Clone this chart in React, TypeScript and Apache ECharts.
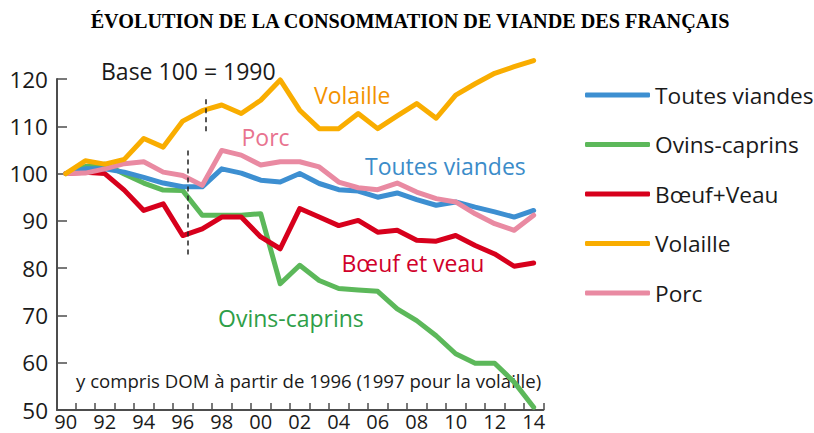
import React, { useEffect, useRef } from "react";
import * as echarts from "echarts";

const years = [1990, 1991, 1992, 1993, 1994, 1995, 1996, 1997, 1998, 1999, 2000, 2001, 2002, 2003, 2004, 2005, 2006, 2007, 2008, 2009, 2010, 2011, 2012, 2013, 2014];
const toutesViandes = [100, 101, 101, 100.3, 99.2, 98, 97.2, 97.2, 101, 100.1, 98.6, 98.2, 100, 97.9, 96.6, 96.3, 95, 95.9, 94.5, 93.3, 94, 92.9, 91.9, 90.8, 92.2];
const ovinsCaprins = [100, 101.5, 102, 99.9, 98, 96.5, 96.4, 91.2, 91.2, 91.2, 91.5, 76.7, 80.6, 77.4, 75.7, 75.4, 75.1, 71.4, 68.9, 65.7, 61.9, 59.9, 59.9, 55.9, 50.6];
const boeufVeau = [100, 100.3, 100, 96.5, 92.2, 93.6, 86.9, 88.3, 90.8, 90.8, 86.6, 84.1, 92.6, 90.8, 89, 90.1, 87.6, 88, 85.9, 85.7, 86.9, 84.8, 83, 80.4, 81.1];
const volaille = [100, 102.7, 102, 103, 107.4, 105.6, 111.1, 113.3, 114.5, 112.7, 115.5, 119.8, 113.4, 109.5, 109.5, 112.7, 109.5, 112.2, 114.8, 111.7, 116.6, 119, 121.2, 122.6, 123.9];
const porc = [100, 100.1, 101, 102.1, 102.5, 100.3, 99.6, 97.5, 104.9, 103.9, 101.8, 102.5, 102.5, 101.4, 98.2, 97, 96.6, 98, 96.1, 94.7, 94, 91.5, 89.4, 88, 91.2];

const yTicks = [50, 60, 70, 80, 90, 100, 110, 120];
const xLabelYears = [1990, 1992, 1994, 1996, 1998, 2000, 2002, 2004, 2006, 2008, 2010, 2012, 2014];
const xTickBounds = [1990.5, 1991.5, 1992.5, 1993.5, 1994.5, 1995.5, 1996.5, 1997.5, 1998.5, 1999.5, 2000.5, 2001.5, 2002.5, 2003.5, 2004.5, 2005.5, 2006.5, 2007.5, 2008.5, 2009.5, 2010.5, 2011.5, 2012.5, 2013.5, 2014.5];

const seriesDefs = [
  { name: "Ovins-caprins", values: ovinsCaprins, color: "#5cb85a" },
  { name: "Bœuf+Veau", values: boeufVeau, color: "#d7001c" },
  { name: "Toutes viandes", values: toutesViandes, color: "#3d8fd1" },
  { name: "Porc", values: porc, color: "#e98aa2" },
  { name: "Volaille", values: volaille, color: "#f9ad00" },
];
const legendOrder = ["Toutes viandes", "Ovins-caprins", "Bœuf+Veau", "Volaille", "Porc"];

const FONT = "'Open Sans', 'Noto Sans', sans-serif";

export default function App() {
  const ref = useRef<HTMLDivElement>(null);
  useEffect(() => {
    if (!ref.current) return;
    const chart = echarts.init(ref.current, null, { renderer: "svg" });
    const series: any[] = seriesDefs.map((s) => ({
      name: s.name,
      type: "line",
      data: years.map((y, i) => [y, s.values[i]]),
      showSymbol: false,
      symbol: "none",
      clip: false,
      color: s.color,
      lineStyle: { width: 5, color: s.color, join: "round", cap: "round" },
      emphasis: { disabled: true },
    }));
    series[0].markLine = {
      silent: true,
      symbol: "none",
      label: { show: false },
      lineStyle: { color: "#222", width: 1.5, type: [5, 4] },
      data: [
        [{ coord: [1997.17, 115.7] }, { coord: [1997.17, 108.5] }],
        [{ coord: [1996.28, 104.9] }, { coord: [1996.28, 82.3] }],
      ],
    };
    const txt = (text: string, x: number, y: number, fill: string, size = 23) => ({
      type: "text",
      x,
      y,
      style: { text, fill, font: `${size}px ${FONT}`, textAlign: "left", textVerticalAlign: "middle" },
      silent: true,
    });
    chart.setOption({
      animation: false,
      backgroundColor: "#ffffff",
      grid: { left: 57, right: 270.6, top: 79, bottom: 23, containLabel: false },
      xAxis: {
        type: "value",
        min: 1989.55,
        max: 2014.5,
        axisLine: { show: true, lineStyle: { color: "#4d4d4d", width: 2 } },
        axisTick: { show: true, inside: true, length: 7, customValues: xTickBounds, lineStyle: { color: "#4d4d4d", width: 1.5 } },
        axisLabel: {
          customValues: xLabelYears,
          formatter: (v: number) => String(v % 100).padStart(2, "0"),
          fontSize: 20,
          lineHeight: 20,
          fontFamily: FONT,
          color: "#1a1a1a",
          margin: 1,
        },
        splitLine: { show: false },
      },
      yAxis: {
        type: "value",
        min: 50,
        max: 120,
        interval: 10,
        axisLine: { show: true, lineStyle: { color: "#4d4d4d", width: 2 } },
        axisTick: { show: true, inside: true, length: 10, customValues: yTicks, lineStyle: { color: "#4d4d4d", width: 1.5 } },
        axisLabel: { customValues: yTicks, fontSize: 22.5, fontFamily: FONT, color: "#1a1a1a", margin: 9 },
        splitLine: { show: false },
      },
      legend: {
        data: legendOrder,
        orient: "vertical",
        left: 580,
        top: 77,
        icon: "roundRect",
        itemWidth: 65,
        itemHeight: 5,
        itemGap: 23.5,
        textStyle: { fontSize: 22.7, fontFamily: FONT, color: "#1a1a1a", lineHeight: 26 },
        selectedMode: false,
      },
      series,
      graphic: [
        {
          type: "text",
          x: 410,
          y: 21,
          style: {
            text: "ÉVOLUTION DE LA CONSOMMATION DE VIANDE DES FRANÇAIS",
            fill: "#000",
            font: "bold 20.2px 'Liberation Serif', 'Times New Roman', serif",
            textAlign: "center",
            textVerticalAlign: "middle",
          },
        },
        txt("Base 100 = 1990", 101, 70.7, "#1a1a1a"),
        txt("Volaille", 314, 95, "#f39200"),
        txt("Porc", 241.5, 137, "#e8738f"),
        txt("Toutes viandes", 365, 166, "#3b8cc9"),
        txt("Bœuf et veau", 341.5, 263.3, "#d1002a"),
        txt("Ovins-caprins", 218, 318.3, "#2e9e48"),
        txt("y compris DOM à partir de 1996 (1997 pour la volaille)", 76, 380, "#1a1a1a", 18.6),
      ],
    });
    return () => chart.dispose();
  }, []);
  return <div ref={ref} style={{ width: 814, height: 433, position: "absolute", left: 0, top: 0 }} />;
}
